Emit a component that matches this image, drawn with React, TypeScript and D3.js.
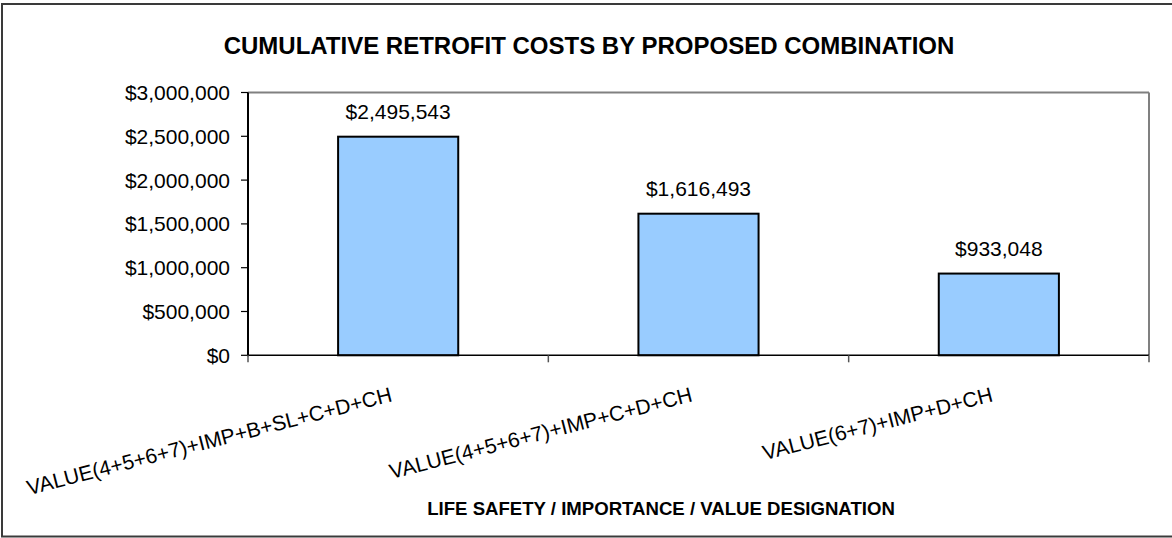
import React from "react";
import * as d3 from "d3";

const categories: string[] = [
  "VALUE(4+5+6+7)+IMP+B+SL+C+D+CH",
  "VALUE(4+5+6+7)+IMP+C+D+CH",
  "VALUE(6+7)+IMP+D+CH",
];
const costs: number[] = [2495543, 1616493, 933048];
const yTicks: number[] = [0, 500000, 1000000, 1500000, 2000000, 2500000, 3000000];
const chartTitle = "CUMULATIVE RETROFIT COSTS BY PROPOSED COMBINATION";
const xAxisTitle = "LIFE SAFETY / IMPORTANCE / VALUE DESIGNATION";

const W = 1172;
const H = 538;
const FONT = "'Liberation Sans', Arial, Helvetica, sans-serif";

export default function App() {
  const left = 248;
  const right = 1149;
  const top = 92.5;
  const bottom = 355.3;

  const x = d3.scaleBand<string>().domain(categories).range([left, right]).paddingInner(0).paddingOuter(0);
  const y = d3.scaleLinear().domain([0, 3000000]).range([bottom, top]);
  const barW = x.bandwidth() * 0.4;
  const money = (v: number) => "$" + d3.format(",")(v);

  const boundaries = [left, ...categories.map((c) => (x(c) as number) + x.bandwidth())];

  return (
    <svg
      width={W}
      height={H}
      style={{ position: "absolute", left: 0, top: 0, display: "block", background: "#fff" }}
      fontFamily={FONT}
    >
      <rect x={0} y={0} width={W} height={H} fill="#fff" />
      <rect x={2} y={4} width={W + 4} height={532.5} fill="none" stroke="#3a3a3a" strokeWidth={2} />

      <text x={589} y={54} textAnchor="middle" fontWeight="bold" fontSize={24} fill="#000">
        {chartTitle}
      </text>

      {/* plot area border (top & right, gray) */}
      <line x1={left} x2={right} y1={top} y2={top} stroke="#808080" strokeWidth={2} />
      <line x1={right} x2={right} y1={top} y2={bottom} stroke="#808080" strokeWidth={2} />

      {/* bars */}
      {categories.map((c, i) => {
        const cx = (x(c) as number) + x.bandwidth() / 2;
        const yv = y(costs[i]);
        return (
          <g key={c}>
            <rect
              x={cx - barW / 2}
              y={yv}
              width={barW}
              height={bottom - yv}
              fill="#99CCFF"
              stroke="#000"
              strokeWidth={2}
            />
            <text x={cx} y={yv - 18} textAnchor="middle" fontSize={21} fill="#000">
              {money(costs[i])}
            </text>
          </g>
        );
      })}

      {/* y axis */}
      <line x1={left} x2={left} y1={top} y2={bottom + 1} stroke="#000" strokeWidth={2} />
      {yTicks.map((t) => (
        <g key={t}>
          <line x1={left - 7} x2={left} y1={y(t)} y2={y(t)} stroke="#000" strokeWidth={1.2} />
          <text x={230} y={y(t)} dy="0.36em" textAnchor="end" fontSize={21} fill="#000">
            {money(t)}
          </text>
        </g>
      ))}

      {/* x axis */}
      <line x1={left} x2={right} y1={bottom} y2={bottom} stroke="#000" strokeWidth={1.5} />
      {boundaries.map((b, i) => (
        <line key={i} x1={b} x2={b} y1={bottom} y2={bottom + 7} stroke="#555" strokeWidth={1.5} />
      ))}

      {categories.map((c) => {
        const cx = (x(c) as number) + x.bandwidth() / 2;
        const ax = cx - 5;
        const ay = 401;
        return (
          <text
            key={c}
            x={ax}
            y={ay}
            textAnchor="end"
            fontSize={21}
            fill="#000"
            transform={`rotate(-14.5 ${ax} ${ay})`}
          >
            {c}
          </text>
        );
      })}

      <text x={661} y={515} textAnchor="middle" fontWeight="bold" fontSize={18.6} fill="#000">
        {xAxisTitle}
      </text>
    </svg>
  );
}
